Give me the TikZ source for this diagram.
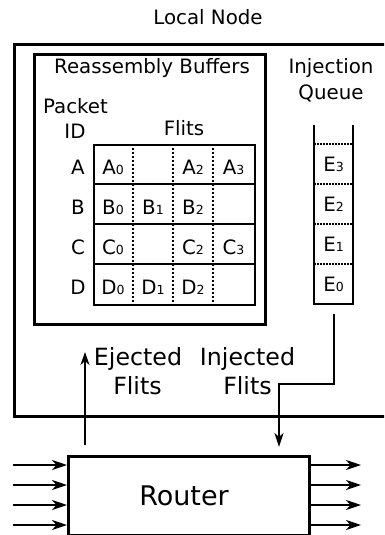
\documentclass[tikz,border=0pt]{standalone}
\usepackage{fontspec}
\setmainfont{DejaVu Sans}
\usetikzlibrary{arrows.meta}
\newcommand\flitsub[1]{{\fontsize{12.5}{12.5}\selectfont #1}}
\newcommand\lblfont{\fontsize{19.8}{25}\selectfont}
\newcommand\pathfont{\fontsize{23.7}{28}\selectfont}
\begin{document}
\begin{tikzpicture}[x=1pt,y=-1pt,
  box/.style={draw, line width=2.6pt, inner sep=0pt, anchor=north west},
  txt/.style={inner sep=0pt, anchor=base, font=\lblfont},
  ptxt/.style={inner sep=0pt, anchor=base, font=\pathfont},
  dots/.style={line width=1.8pt, dash pattern=on 1.8pt off 2.2pt},
  thin/.style={line width=2.3pt},
  arr/.style={line width=2.2pt, -{Stealth[length=15pt,width=10pt,inset=4.5pt]}}]
\useasboundingbox (0,0) rectangle (384,535);
\clip (0,0) rectangle (384,535);

% local node enclosure
\node[txt] (title) at (208,25) {Local Node};
\node[box, line width=2.8pt, minimum width=390pt, minimum height=372pt] (local) at (13,43) {};

% reassembly buffers
\node[box, minimum width=231pt, minimum height=270pt] (reasm) at (33,53) {};
\node[txt] (reasmlbl) at (152,74) {Reassembly Buffers};
\node[txt] (pkt) at (75.5,113) {Packet};
\node[txt] (pid) at (75,138) {ID};
\node[txt] (flits) at (184,135) {Flits};

% buffer grid
\node[box, thin, minimum width=161pt, minimum height=160pt] (grid) at (93,144) {};
\foreach \y in {184,224,264} \draw[thin] (93,\y) -- (254,\y);
\foreach \x in {133,173,213} \draw[dots] (\x,144) -- (\x,304);

\node[txt] (ra) at (78,174) {A};
\node[txt] (rb) at (78,214) {B};
\node[txt] (rc) at (78,254) {C};
\node[txt] (rd) at (78,294) {D};

\node[txt] (a0) at (113,174) {A\flitsub0};
\node[txt] (a2) at (193,174) {A\flitsub2};
\node[txt] (a3) at (233.5,174) {A\flitsub3};
\node[txt] (b0) at (113,214) {B\flitsub0};
\node[txt] (b1) at (153,214) {B\flitsub1};
\node[txt] (b2) at (193,214) {B\flitsub2};
\node[txt] (c0) at (113,254) {C\flitsub0};
\node[txt] (c2) at (193,254) {C\flitsub2};
\node[txt] (c3) at (233.5,254) {C\flitsub3};
\node[txt] (d0) at (113,294) {D\flitsub0};
\node[txt] (d1) at (153,294) {D\flitsub1};
\node[txt] (d2) at (193,294) {D\flitsub2};

% injection queue
\node[txt] (injq1) at (331,74) {Injection};
\node[txt] (injq2) at (331,99) {Queue};
\draw[thin] (314,125) -- (314,304) -- (353,304) -- (353,125);
\foreach \y in {144,184,224,264} \draw[dots, dash pattern=on 1.5pt off 1.5pt] (314,\y) -- (353,\y);
\node[txt] (e3) at (333.5,171) {E\flitsub3};
\node[txt] (e2) at (333.5,211) {E\flitsub2};
\node[txt] (e1) at (333.5,251) {E\flitsub1};
\node[txt] (e0) at (333.5,291) {E\flitsub0};

% router
\node[box, minimum width=241pt, minimum height=78.5pt] (router) at (67,455) {};
\node[inner sep=0pt, anchor=base, font=\fontsize{27}{30}\selectfont] (routerlbl) at (184,505) {Router};

% router ports
\foreach \y [count=\i] in {465,485,505,525} {
  \coordinate (in\i) at (13,\y);
  \coordinate (out\i) at (361,\y);
  \draw[arr] (in\i) -- (in\i -| router.west);
  \draw[arr] (out\i -| router.east) -- (out\i);
}

% ejection path
\coordinate (ejbot) at (85,445);
\coordinate (ejtop) at (85,352);
\draw[arr, -{Stealth[length=13pt,width=9pt,inset=4pt]}] (ejbot) -- (ejtop);
\node[ptxt] (ej1) at (138,365) {Ejected};
\node[ptxt] (ej2) at (137.5,394) {Flits};

% injection path
\coordinate (qout) at (334,314);
\coordinate (qbend) at (334,384);
\coordinate (injend) at (279,447);
\draw[arr, -{Stealth[length=14pt,width=9pt,inset=4pt]}] (qout) -- (qbend) -| (injend);
\node[ptxt] (inj1) at (247.5,365) {Injected};
\node[ptxt] (inj2) at (247.5,394) {Flits};
\end{tikzpicture}
\end{document}
